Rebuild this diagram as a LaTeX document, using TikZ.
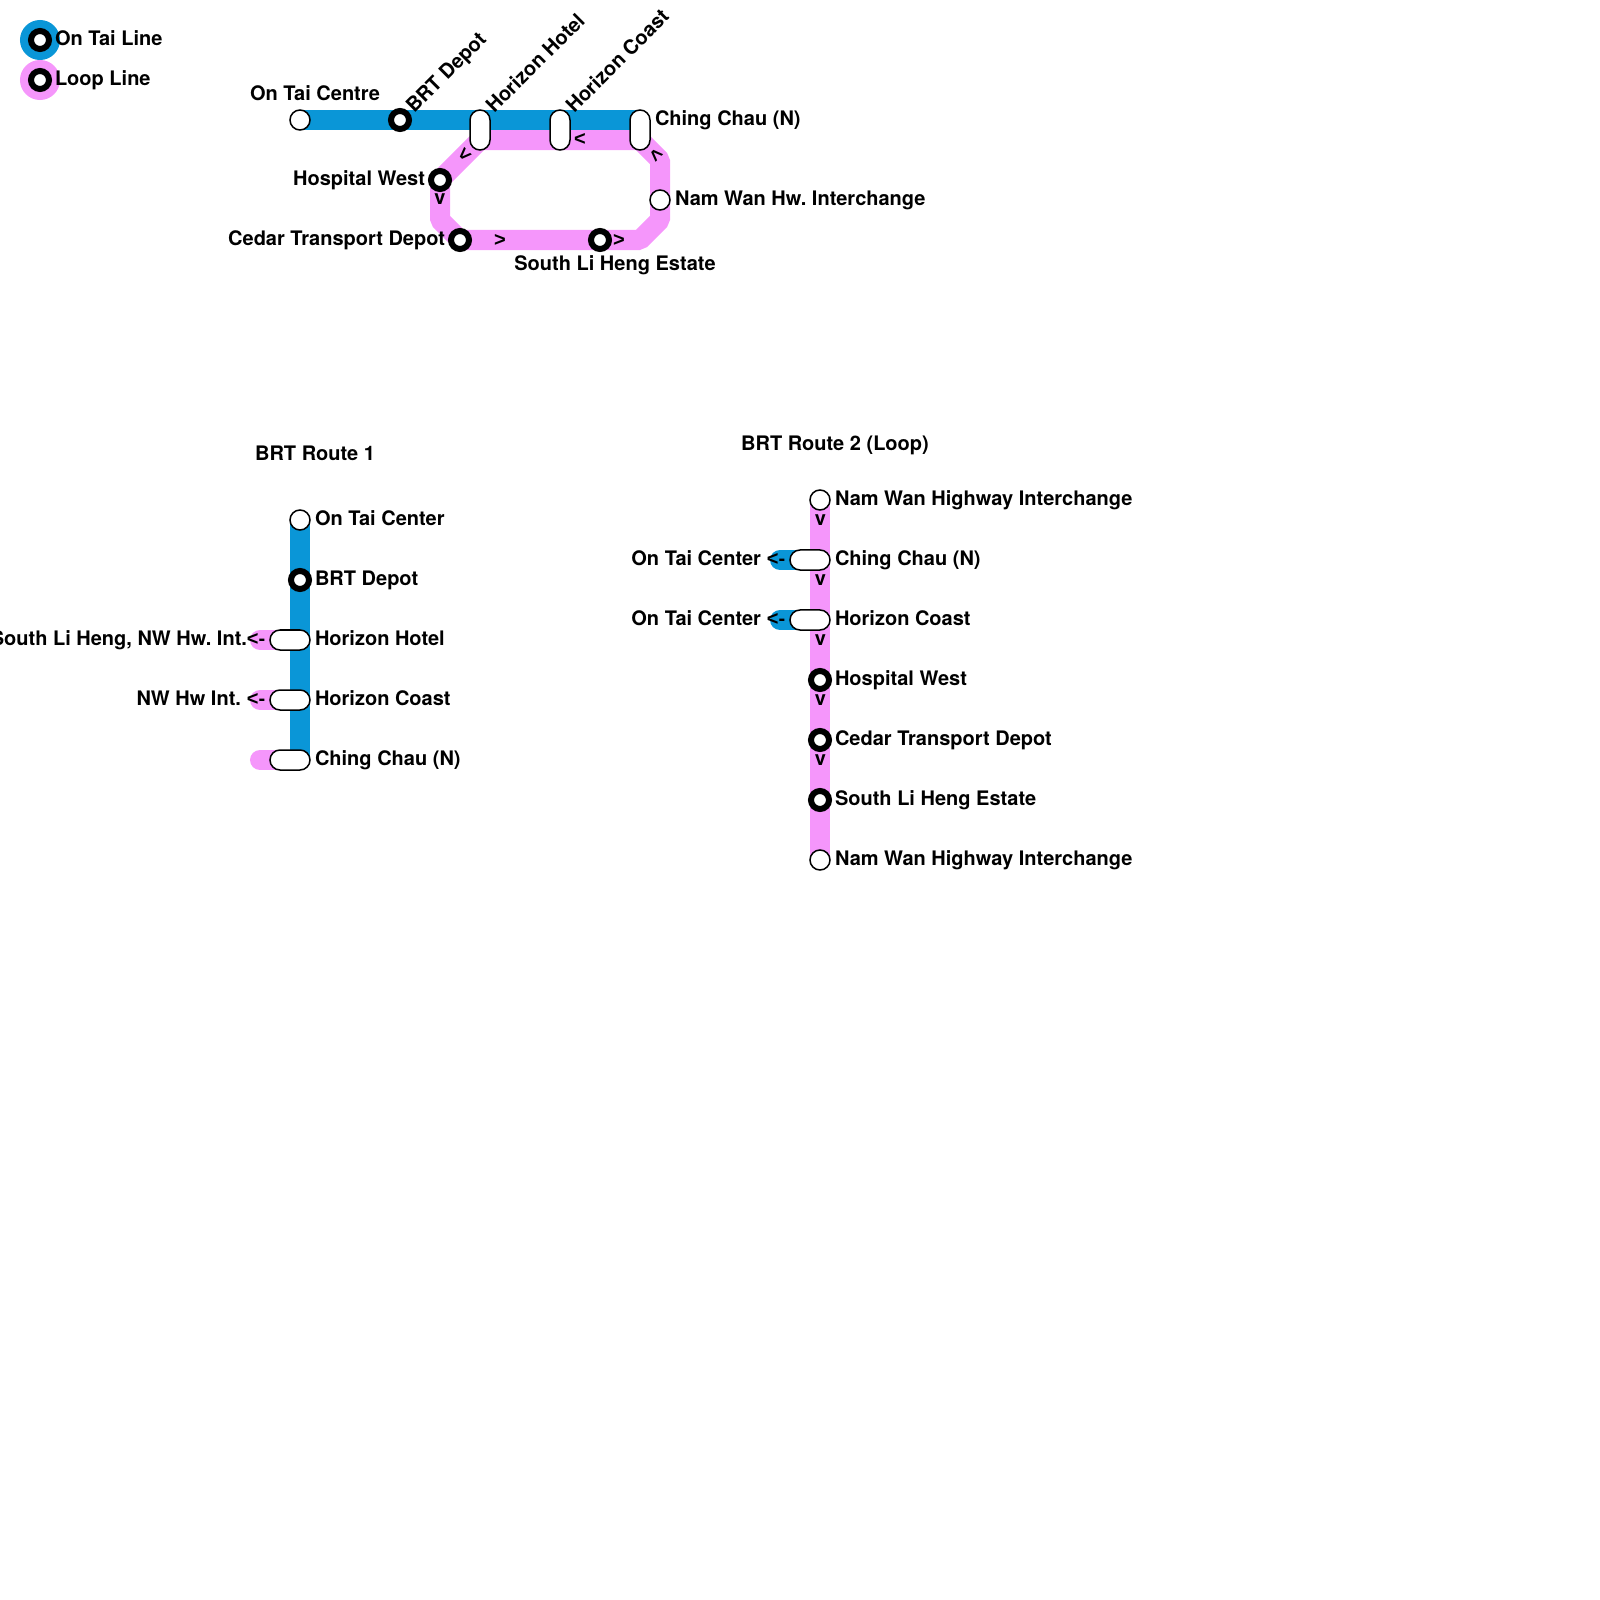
\documentclass[tikz,border=0pt]{standalone}
\usepackage{fontspec}
\setmainfont{TeX Gyre Heros}
\newfontfamily\markfont{Liberation Sans}
\frenchspacing
\usetikzlibrary{positioning, backgrounds}
\definecolor{ontaiblue}{HTML}{0A96D7}
\definecolor{looppink}{HTML}{F596FB}
\tikzset{
    txt/.style={font=\fontsize{5.69pt}{6.8pt}\selectfont\bfseries, inner sep=0pt, outer sep=0pt, anchor=base west},
    txtr/.style={txt, anchor=base east},
    txtc/.style={txt, anchor=base},
    txtd/.style={txt, rotate=45},
    chev/.style={txtc, font=\fontsize{5.69pt}{6.8pt}\markfont\bfseries},
    chev45/.style={chev, anchor=center},
    ring/.style={draw, circle, fill=white, line width=0.6mm, minimum size=1.8mm, inner sep=0pt, outer sep=0pt},
    term/.style={draw, circle, fill=white, line width=0.15mm, minimum size=2mm, inner sep=0pt, outer sep=0pt},
    pillv/.style={draw, rectangle, rounded corners=1mm, fill=white, line width=0.15mm, minimum width=2mm, minimum height=4mm, inner sep=0pt, outer sep=0pt},
    pillh/.style={pillv, minimum width=4mm, minimum height=2mm},
    blueline/.style={draw=ontaiblue, line width=2mm},
    pinkline/.style={draw=looppink, line width=2mm, line join=bevel},
    legdot/.style={circle, minimum size=4mm, inner sep=0pt, outer sep=0pt}
}
\begin{document}
\begin{tikzpicture}[x=0.01cm, y=-0.01cm]
    \useasboundingbox (0,0) rectangle (1600,1600);
    % legend
    \node[legdot, fill=ontaiblue] (legA) at (40,40) {};
    \node[legdot, fill=looppink] (legB) at (40,80) {};
    \node[ring] (legAr) at (legA) {};
    \node[ring] (legBr) at (legB) {};
    \node[txt] (legAt) at (55,45.5) {On Tai Line};
    \node[txt] (legBt) at (55,85.5) {Loop Line};
    % map
    \node[term] (onTai) at (300,120) {};
    \node[ring] (depot) at (400,120) {};
    \node[pillv] (hotel) at (480,130) {};
    \node[pillv] (coast) at (560,130) {};
    \node[pillv] (ching) at (640,130) {};
    \node[ring] (hospital) at (440,180) {};
    \node[ring] (cedar) at (460,240) {};
    \node[ring] (liHeng) at (600,240) {};
    \node[term] (namWan) at (660,200) {};
    \coordinate (hotelT) at (480,120);
    \coordinate (chingT) at (640,120);
    \coordinate (hotelB) at (480,140);
    \coordinate (chingB) at (640,140);
    \coordinate (cnrA) at (440,220);
    \coordinate (cnrB) at (640,240);
    \coordinate (cnrC) at (660,220);
    \coordinate (cnrD) at (660,160);
    \node[txtc] (onTaiT) at (315,100.5) {On Tai Centre};
    \node[txtd] (depotT) at (414.3,114) {BRT Depot};
    \node[txtd] (hotelT2) at (494.3,114) {Horizon Hotel};
    \node[txtd] (coastT) at (574.3,114) {Horizon Coast};
    \node[txt] (chingT2) at (655,125.5) {Ching Chau (N)};
    \node[txtr] (hospitalT) at (425,185.5) {Hospital West};
    \node[txtr] (cedarT) at (445,245.5) {Cedar Transport Depot};
    \node[txt] (namWanT) at (675,205.5) {Nam Wan Hw. Interchange};
    \node[txtc] (liHengT) at (615,270) {South Li Heng Estate};
    \node[chev] (mkA) at (580,146) {<};
    \node[chev45, rotate=45] (mkB) at (465,155) {<};
    \node[chev45, rotate=-45] (mkC) at (655.5,155) {<};
    \node[txtc] (mkD) at (440,205) {v};
    \node[chev] (mkE) at (500,246) {>};
    \node[chev] (mkF) at (619,246.5) {>};
    % route 1
    \node[txtc] (routeA) at (315,460) {BRT Route 1};
    \node[term] (aOnTai) at (300,520) {};
    \node[ring] (aDepot) at (300,580) {};
    \node[pillh] (aHotel) at (290,640) {};
    \node[pillh] (aCoast) at (290,700) {};
    \node[pillh] (aChing) at (290,760) {};
    \coordinate (aEnd) at (300,760);
    \coordinate (aStubA) at (260,640);
    \coordinate (aStubB) at (260,700);
    \coordinate (aStubC) at (260,760);
    \node[txt] (aOnTaiT) at (315,525) {On Tai Center};
    \node[txt] (aDepotT) at (315,585) {BRT Depot};
    \node[txt] (aHotelT) at (315,645) {Horizon Hotel};
    \node[txt] (aCoastT) at (315,705) {Horizon Coast};
    \node[txt] (aChingT) at (315,765) {Ching Chau (N)};
    \node[txtr] (aXferA) at (247,645) {South Li Heng, NW Hw. Int.};
    \node[txtr] (aXferB) at (241,705) {NW Hw Int.};
    \node[chev] (aMkA) at (256,645.5) {<-};
    \node[chev] (aMkB) at (256,705.5) {<-};
    % route 2
    \node[txtc] (routeB) at (835,450) {BRT Route 2 (Loop)};
    \node[term] (bNamA) at (820,500) {};
    \node[pillh] (bChing) at (810,560) {};
    \node[pillh] (bCoast) at (810,620) {};
    \node[ring] (bHospital) at (820,680) {};
    \node[ring] (bCedar) at (820,740) {};
    \node[ring] (bLiHeng) at (820,800) {};
    \node[term] (bNamB) at (820,860) {};
    \coordinate (bStubA) at (780,560);
    \coordinate (bStubB) at (780,620);
    \node[txt] (bNamAT) at (835,505) {Nam Wan Highway Interchange};
    \node[txt] (bChingT) at (835,565) {Ching Chau (N)};
    \node[txt] (bCoastT) at (835,625) {Horizon Coast};
    \node[txt] (bHospitalT) at (835,685) {Hospital West};
    \node[txt] (bCedarT) at (835,745) {Cedar Transport Depot};
    \node[txt] (bLiHengT) at (835,805) {South Li Heng Estate};
    \node[txt] (bNamBT) at (835,865) {Nam Wan Highway Interchange};
    \node[txtr] (bXferA) at (761,565) {On Tai Center};
    \node[txtr] (bXferB) at (761,625) {On Tai Center};
    \node[chev] (bMkA) at (776,565.5) {<-};
    \node[chev] (bMkB) at (776,625.5) {<-};
    \node[txtc] (bMkC) at (820.5,525) {v};
    \node[txtc] (bMkD) at (820.5,585) {v};
    \node[txtc] (bMkE) at (820.5,645) {v};
    \node[txtc] (bMkF) at (820.5,705) {v};
    \node[txtc] (bMkG) at (820.5,765) {v};
    % lines under the stations
    \begin{scope}[on background layer]
        \draw[pinkline] (hotelB) -- (hospital.center) -- (cnrA) -- (cedar.center) -- (cnrB) -- (cnrC) -- (cnrD) -- (chingB) -- cycle;
        \draw[blueline] (onTai.center) -- (chingT);
        \draw[blueline] (aOnTai.center) -- (aEnd);
        \draw[pinkline, line cap=round] (aStubA) -- (aHotel.center);
        \draw[pinkline, line cap=round] (aStubB) -- (aCoast.center);
        \draw[pinkline, line cap=round] (aStubC) -- (aChing.center);
        \draw[pinkline] (bNamA.center) -- (bNamB.center);
        \draw[blueline, line cap=round] (bStubA) -- (bChing.center);
        \draw[blueline, line cap=round] (bStubB) -- (bCoast.center);
    \end{scope}
\end{tikzpicture}
\end{document}
